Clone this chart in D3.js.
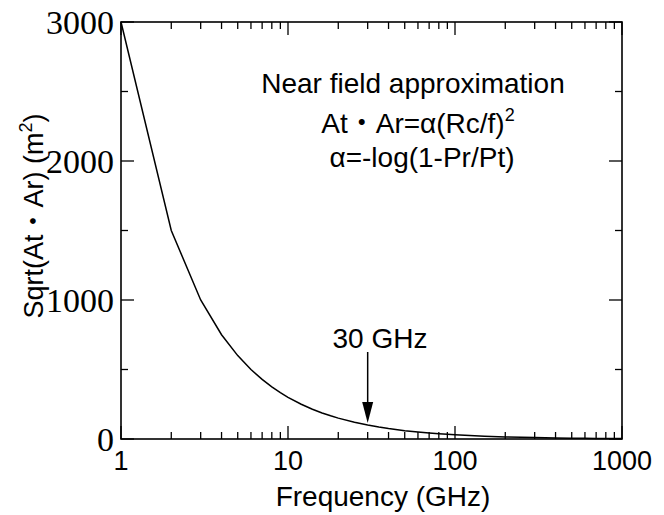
<!DOCTYPE html>
<html>
<head>
<meta charset="utf-8">
<script src="https://cdn.jsdelivr.net/npm/d3@7"></script>
<style>
  body { margin: 0; background: #fff; }
  svg text { fill: #000; }
</style>
</head>
<body>
<svg width="664" height="515"></svg>
<script>
// frequencies (GHz) and the curve
var freq = [1, 2, 3, 4, 5, 6, 7, 8, 9, 10,
  12, 14, 16, 18, 20, 25, 30, 35, 40, 50, 60, 70, 80, 90, 100,
  150, 200, 300, 400, 500, 600, 700, 800, 900, 1000];
var sqrtArea = [3000, 1500, 1000, 750, 600, 500, 428.6, 375, 333.3, 300,
  250, 214.3, 187.5, 166.7, 150, 120, 100, 85.7, 75, 60, 50, 42.9, 37.5, 33.3, 30,
  20, 15, 10, 7.5, 6, 5, 4.3, 3.75, 3.33, 3];
var xTickLabels = [1, 10, 100, 1000];
var yTickLabels = [0, 1000, 2000, 3000];
var yMinor = [500, 1500, 2500];
var noteLines = ["Near field approximation", "At\u30FBAr=\u03B1(Rc/f)", "\u03B1=-log(1-Pr/Pt)"];
var arrowFreq = 30;

var svg = d3.select("svg");
var sans = "'Liberation Sans', Arial, 'Noto Sans CJK JP', sans-serif";
var serif = "'Liberation Serif', 'Times New Roman', serif";

var pLeft = 121, pRight = 622, pTop = 22, pBottom = 439;

var x = d3.scaleLog().domain([1, 1000]).range([pLeft, pRight]);
var y = d3.scaleLinear().domain([0, 3000]).range([pBottom, pTop]);

// minor x ticks 2..9 in each decade
var xMinor = x.ticks().filter(function(d) {
  return xTickLabels.indexOf(d) < 0;
});

// frame
svg.append("rect")
  .attr("x", pLeft).attr("y", pTop)
  .attr("width", pRight - pLeft).attr("height", pBottom - pTop)
  .attr("fill", "none").attr("stroke", "#000").attr("stroke-width", 1.6);

//* inward ticks on all four sides
function tickLines(vals, len, horiz) {
  vals.forEach(function(v) {
    if (horiz) {
      svg.append("line").attr("x1", x(v)).attr("x2", x(v))
        .attr("y1", pBottom).attr("y2", pBottom - len)
        .attr("stroke", "#000").attr("stroke-width", 1.3);
      svg.append("line").attr("x1", x(v)).attr("x2", x(v))
        .attr("y1", pTop).attr("y2", pTop + len)
        .attr("stroke", "#000").attr("stroke-width", 1.3);
    } else {
      svg.append("line").attr("x1", pLeft).attr("x2", pLeft + len)
        .attr("y1", y(v)).attr("y2", y(v))
        .attr("stroke", "#000").attr("stroke-width", 1.3);
      svg.append("line").attr("x1", pRight).attr("x2", pRight - len)
        .attr("y1", y(v)).attr("y2", y(v))
        .attr("stroke", "#000").attr("stroke-width", 1.3);
    }
  });
}
tickLines(xTickLabels, 13, true);
tickLines(xMinor, 7, true);
tickLines(yTickLabels, 13, false);
tickLines(yMinor, 7, false);

// tick labels
svg.selectAll(".xl").data(xTickLabels).enter().append("text")
  .attr("x", function(d) { return x(d); })
  .attr("y", 470)
  .attr("text-anchor", "middle")
  .style("font-family", sans).style("font-size", "27px")
  .text(function(d) { return d; });

svg.selectAll(".yl").data(yTickLabels).enter().append("text")
  .attr("x", 114)
  .attr("y", function(d) { return y(d); })
  .attr("dy", "0.34em")
  .attr("text-anchor", "end")
  .style("font-family", serif).style("font-size", "34px")
  .text(function(d) { return d; });

// axis titles
svg.append("text")
  .attr("x", 383).attr("y", 506)
  .attr("text-anchor", "middle")
  .style("font-family", sans).style("font-size", "28px")
  .text("Frequency (GHz)");

var yt = svg.append("text")
  .attr("transform", "translate(43,216) rotate(-90)")
  .attr("text-anchor", "middle")
  .style("font-family", sans).style("font-size", "27px");
yt.append("tspan").text("Sqrt(At\u30FBAr) (m");
yt.append("tspan").attr("dy", -11).style("font-size", "18px").text("2");
yt.append("tspan").attr("dy", 11).text(")");

// curve
var line = d3.line()
  .x(function(d, i) { return x(freq[i]); })
  .y(function(d) { return y(d); });

svg.append("path")
  .datum(sqrtArea)
  .attr("d", line)
  .attr("fill", "none")
  .attr("stroke", "#000")
  .attr("stroke-width", 1.5);

// annotation
svg.append("text").attr("x", 413).attr("y", 93)
  .attr("text-anchor", "middle")
  .style("font-family", sans).style("font-size", "28px")
  .text(noteLines[0]);
var l2 = svg.append("text").attr("x", 418).attr("y", 133)
  .attr("text-anchor", "middle")
  .style("font-family", sans).style("font-size", "28px");
l2.append("tspan").text(noteLines[1]);
l2.append("tspan").attr("dy", -12).style("font-size", "18px").text("2");
svg.append("text").attr("x", 422).attr("y", 167)
  .attr("text-anchor", "middle")
  .style("font-family", sans).style("font-size", "28px")
  .text(noteLines[2]);

// 30 GHz arrow
var ax = x(arrowFreq);
var tipY = y(sqrtArea[freq.indexOf(arrowFreq)]) - 2;
svg.append("line").attr("x1", ax).attr("x2", ax)
  .attr("y1", 352).attr("y2", tipY - 18)
  .attr("stroke", "#000").attr("stroke-width", 1.5);
svg.append("path")
  .attr("d", "M" + (ax - 5.5) + "," + (tipY - 21) + "L" + (ax + 5.5) + "," + (tipY - 21) + "L" + ax + "," + tipY + "Z")
  .attr("fill", "#000");
svg.append("text").attr("x", 380).attr("y", 348)
  .attr("text-anchor", "middle")
  .style("font-family", sans).style("font-size", "28px")
  .text(arrowFreq + " GHz");
</script>
</body>
</html>
